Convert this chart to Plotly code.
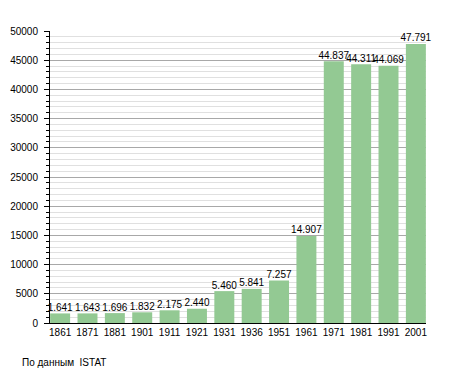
import plotly.graph_objects as go

years = ["1861", "1871", "1881", "1901", "1911", "1921", "1931", "1936", "1951", "1961", "1971", "1981", "1991", "2001"]
population = [1641, 1643, 1696, 1832, 2175, 2440, 5460, 5841, 7257, 14907, 44837, 44311, 44069, 47791]
labels = [f"{v/1000:.3f}" for v in population]
ytick_vals = [0, 5000, 10000, 15000, 20000, 25000, 30000, 35000, 40000, 45000, 50000]
ytick_text = [str(v) for v in ytick_vals]

FONT = "Liberation Sans, Arial, sans-serif"

fig = go.Figure()
fig.add_trace(go.Bar(
    x=years, y=population,
    marker=dict(color="#93c993", line=dict(width=0)),
    width=0.73, hoverinfo="skip",
))
fig.add_trace(go.Scatter(
    x=years, y=population, text=labels, mode="text",
    textposition="top center", textfont=dict(size=10, color="black", family=FONT),
    cliponaxis=False, hoverinfo="skip",
))

# page body has an 8px margin, so the figure is offset by 8px
fig.update_layout(
    width=447, height=365,
    margin=dict(l=42, r=29, t=23, b=50, autoexpand=False),
    paper_bgcolor="white", plot_bgcolor="white",
    font=dict(family=FONT, size=10, color="black"),
    showlegend=False,
    xaxis=dict(
        type="category", range=[-0.37, 13.37], automargin=False,
        showline=True, linecolor="black", linewidth=1, tickangle=0,
        ticks="", showgrid=False, tickfont=dict(size=10),
    ),
    yaxis=dict(
        range=[0, 50000], tickvals=ytick_vals, ticktext=ytick_text, automargin=False,
        showline=True, linecolor="black", linewidth=1,
        ticks="outside", ticklen=5, tickcolor="black",
        showgrid=True, gridcolor="#a8a8a8", gridwidth=1,
        zeroline=False, tickfont=dict(size=10), ticklabelstandoff=4,
        minor=dict(dtick=1000, showgrid=True, gridcolor="#e0e0e0",
                   ticks="outside", ticklen=3, tickcolor="black"),
    ),
    annotations=[dict(
        text="По данным  ISTAT", x=(12 - 42) / 376, y=(315 - 354) / 292,
        xref="paper", yref="paper",
        showarrow=False, xanchor="left", yanchor="middle", font=dict(size=10),
    )],
)

fig.write_html("out.html")
